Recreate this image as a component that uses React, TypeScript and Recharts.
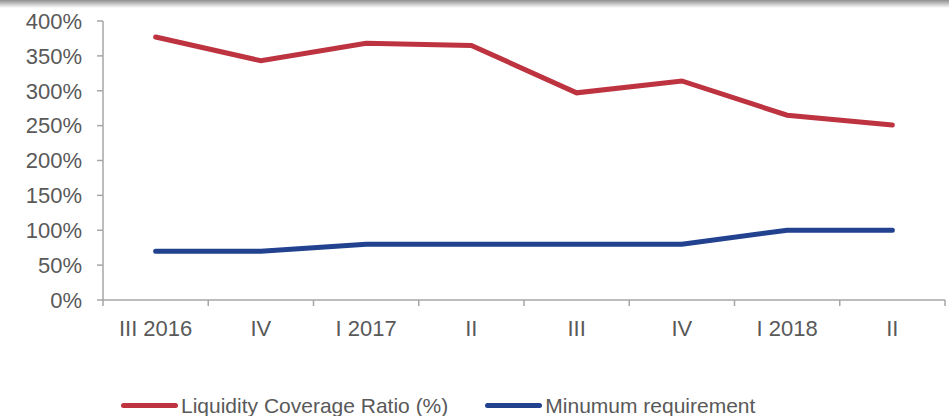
import { LineChart, Line, XAxis, YAxis } from 'recharts';

const quarters = ['III 2016', 'IV', 'I 2017', 'II', 'III', 'IV', 'I 2018', 'II'];
const lcrValues = [377, 343, 368, 365, 297, 314, 265, 251];
const minValues = [70, 70, 80, 80, 80, 80, 100, 100];
const yTicks = [0, 50, 100, 150, 200, 250, 300, 350, 400];

const series = [
  { key: 'lcr', name: 'Liquidity Coverage Ratio (%)', color: '#BE3340' },
  { key: 'min', name: 'Minumum requirement', color: '#22418F' },
];

const chartData = quarters.map((q, i) => ({ quarter: q, lcr: lcrValues[i], min: minValues[i] }));

const W = 949;
const H = 416;
const LEFT = 103;
const RIGHT = 4;
const TICK_SIZE = 6;
const TICK_MARGIN = 14;
const band = (W - LEFT - RIGHT) / quarters.length;
const axisColor = '#A6A6A6';
const textColor = '#595959';
const font = 'Arial, "Liberation Sans", sans-serif';

function QuarterTick(props: any) {
  const { x, y, payload, index } = props;
  const axisY = y - TICK_SIZE - TICK_MARGIN;
  return (
    <g>
      <line x1={x - band / 2} x2={x - band / 2} y1={axisY} y2={axisY + TICK_SIZE} stroke={axisColor} strokeWidth={1.5} />
      {index === quarters.length - 1 && (
        <line x1={x + band / 2} x2={x + band / 2} y1={axisY} y2={axisY + TICK_SIZE} stroke={axisColor} strokeWidth={1.5} />
      )}
      <text x={x} y={y} dy="0.71em" textAnchor="middle" fill={textColor} fontSize={22} fontFamily={font}>
        {payload.value}
      </text>
    </g>
  );
}

export default function App() {
  return (
    <div style={{ position: 'absolute', left: 0, top: 0, width: W, height: H, background: '#fff', overflow: 'hidden' }}>
      <div style={{ position: 'absolute', left: 0, top: 0, width: W, height: 8, background: 'linear-gradient(#8f8f8f, #ffffff)' }} />
      <LineChart width={W} height={H} data={chartData} margin={{ top: 21, right: RIGHT, left: 0, bottom: 86 }}>
        <XAxis
          dataKey="quarter"
          height={30}
          padding={{ left: band / 2, right: band / 2 }}
          tickLine={false}
          tickSize={TICK_SIZE}
          tickMargin={TICK_MARGIN}
          stroke={axisColor}
          strokeWidth={1.5}
          interval={0}
          tick={<QuarterTick />}
        />
        <YAxis
          width={LEFT}
          domain={[0, 400]}
          ticks={yTicks}
          tickFormatter={(v: number) => `${v}%`}
          tickSize={TICK_SIZE}
          tickMargin={15}
          stroke={axisColor}
          strokeWidth={1.5}
          tick={{ fill: textColor, fontSize: 22, fontFamily: font }}
        />
        {series.map((s) => (
          <Line
            key={s.key}
            type="linear"
            dataKey={s.key}
            name={s.name}
            stroke={s.color}
            strokeWidth={5}
            strokeLinecap="round"
            dot={false}
            activeDot={false}
            isAnimationActive={false}
          />
        ))}
      </LineChart>
      <div
        style={{
          position: 'absolute',
          left: 121,
          top: 395,
          display: 'flex',
          alignItems: 'center',
          fontFamily: font,
          fontSize: 21,
          lineHeight: '21px',
          color: textColor,
          whiteSpace: 'nowrap',
        }}
      >
        {series.map((s) => (
          <div key={s.key} style={{ display: 'flex', alignItems: 'center', marginRight: 37 }}>
            <span style={{ display: 'inline-block', width: 57, height: 5, borderRadius: 3, background: s.color, marginRight: 3 }} />
            <span>{s.name}</span>
          </div>
        ))}
      </div>
    </div>
  );
}
